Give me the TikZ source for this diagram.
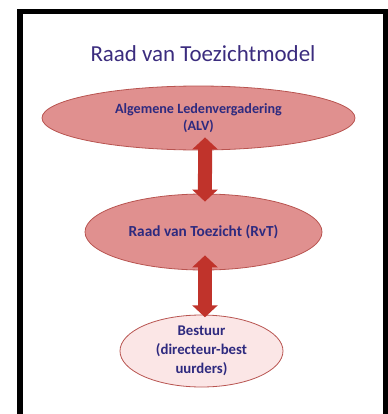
\documentclass[tikz,border=0pt]{standalone}
\usepackage{fontspec}
\setmainfont{Carlito}
\usetikzlibrary{shapes.geometric}
\usetikzlibrary{arrows.meta}
\definecolor{titleblue}{HTML}{3B2C7E}
\definecolor{textblue}{HTML}{2E2A7F}
\definecolor{ovalfill}{HTML}{E0908F}
\definecolor{ovaledge}{HTML}{B85450}
\definecolor{palefill}{HTML}{FBE6E6}
\definecolor{arrowred}{HTML}{C0332B}
\tikzset{oval/.style={ellipse, draw=ovaledge, fill=ovalfill, line width=0.6pt, inner sep=0pt,
    font=\bfseries\fontsize{10.6}{12.75}\selectfont, text=textblue, align=center}}
\tikzset{linkarrow/.style={arrowred, line width=10.5pt,
    {Triangle[width=18.75pt,length=9pt]}-{Triangle[width=18.75pt,length=9pt]}}}

\begin{document}
\begin{tikzpicture}[x=0.75pt, y=-0.75pt]
      \useasboundingbox (0, 0) rectangle (388, 414);
      % frame
      \draw[line width=4.1pt] (20, 414) -- (20, 11.7) -- (385.5, 11.7) -- (385.5, 414);
      \node[text=titleblue, font=\fontsize{17.2}{21}\selectfont] (title) at (203, 54) {Raad van Toezichtmodel};
      % ovals
      \node[oval, minimum width=234.75pt, minimum height=48pt] (alv) at (198.5, 118)
        {Algemene Ledenvergadering\\(ALV)};
      \node[oval, minimum width=177.75pt, minimum height=57pt,
        font=\bfseries\fontsize{11.5}{13}\selectfont] (rvt) at (203.5, 232)
        {Raad van Toezicht (RvT)};
      \node[oval, fill=palefill, minimum width=122.25pt, minimum height=54pt,
        font=\bfseries\fontsize{11.1}{14.25}\selectfont] (bestuur) at (201.5, 351)
        {Bestuur\\(directeur-best\\uurders)};
      % arrows
      \draw[linkarrow, shorten <=-9.75pt, shorten >=-6pt] ([xshift=4.9pt]alv.south) -- ([xshift=1.1pt]rvt.north);
      \draw[linkarrow, shorten <=-11.25pt, shorten >=-2pt] ([xshift=1.1pt]rvt.south) -- ([xshift=2.6pt]bestuur.north);
\end{tikzpicture}
\end{document}
